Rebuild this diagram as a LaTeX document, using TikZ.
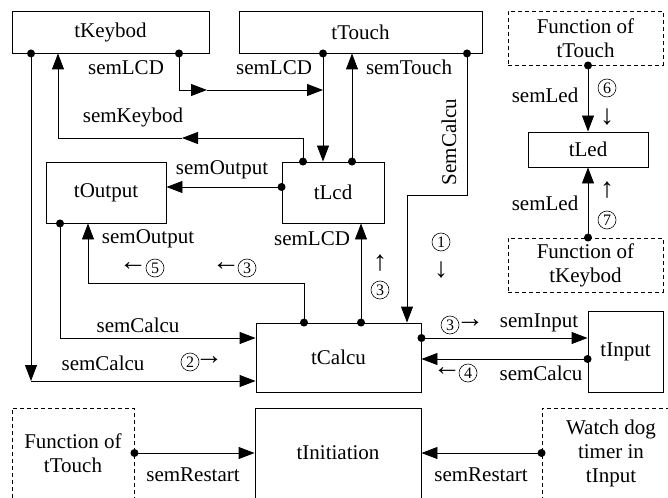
\documentclass[tikz,border=0pt]{standalone}
\usepackage{fontspec}
\setmainfont{Liberation Serif}
\usetikzlibrary{arrows.meta}

\begin{document}
\begin{tikzpicture}[%
	x=1pt,y=-1pt,
	font=\fontsize{21}{24}\selectfont,
	line width=0.9pt,
	>={Triangle[length=16pt,width=12pt]},
	task/.style={draw,inner sep=0pt,align=center},
	func/.style={task,dash pattern=on 4pt off 3pt},
	lab/.style={inner sep=0pt},
	num/.style={circle,draw,line width=0.6pt,inner sep=0pt,minimum size=18pt,font=\fontsize{16}{16}\selectfont},
	arr/.style={inner sep=0pt,font=\fontsize{28}{28}\selectfont}]
	\useasboundingbox (0,0) rectangle (668,497);
	\clip (0,0) rectangle (668,497);

	% tasks
	\node[task,minimum width=197,minimum height=42] (kb) at (110.5,32) {tKeybod};
	\node[task,minimum width=243,minimum height=42] (tc) at (360.5,32) {tTouch};
	\node[func,minimum width=155,minimum height=54] (ft) at (585.5,38) {Function of\\tTouch};
	\node[task,minimum width=120,minimum height=35] (led) at (588,149.5) {tLed};
	\node[func,minimum width=155,minimum height=54] (fk) at (585.5,265) {Function of\\tKeybod};
	\node[task,minimum width=120,minimum height=61] (out) at (106,192.5) {tOutput};
	\node[task,minimum width=102,minimum height=61] (lcd) at (333,192.5) {tLcd};
	\node[task,minimum width=165,minimum height=69] (calc) at (338.5,357.5) {tCalcu};
	\node[task,minimum width=75,minimum height=81] (inp) at (625.5,351.5) {tInput};
	\node[task,minimum width=166,minimum height=90] (init) at (338,453) {tInitiation};
	\node[func,minimum width=122,minimum height=90] (fb) at (73,453) {Function of\\tTouch};
	\node[func,minimum width=138,minimum height=90] (wd) at (611,453) {Watch dog\\timer in\\tInput};

	% semaphores
	\draw[->] (kb.south -| 31,0) coordinate (d1) -- (31,381) coordinate (c1);
	\draw[->] (c1) -- (calc.west |- c1);
	\coordinate (c2) at (323,90);
	\draw[->] (kb.south -| 179,0) coordinate (d2) |- (207,90) coordinate (c3);
	\draw[->] (c3) -- (c2);
	\draw[->] (tc.south -| c2) coordinate (d3) -- (lcd.north -| c2);
	\draw[->] (lcd.north -| 352,0) coordinate (d4) -- (tc.south -| 352,0);
	\draw[->] (lcd.north -| 303,0) coordinate (d5) |- (182,138) coordinate (c4);
	\draw[->] (c4) -| (kb.south -| 58,0);
	\draw[->] (lcd.west |- 0,187) coordinate (d6) -- (out.east |- 0,187);
	\draw[->] (out.south -| 60,0) coordinate (d7) |- (calc.west |- 0,338);
	\draw[->] (calc.north -| 304,0) coordinate (d8) |- (88,283) -- (out.south -| 88,0);
	\draw[->] (calc.north -| 361,0) coordinate (d9) -- (lcd.south -| 361,0);
	\draw[->] (tc.south -| 467,0) coordinate (d10) |- (407,195) -- (calc.north -| 407,0);
	\draw[->] (calc.east |- 0,338) coordinate (d11) -- (inp.west |- 0,338);
	\draw[->] (inp.west |- 0,359) coordinate (d12) -- (calc.east |- 0,359);
	\draw[->] (ft.south -| led.north) coordinate (d13) -- (led.north);
	\draw[->] (fk.north -| led.south) coordinate (d14) -- (led.south);
	\draw[->] (fb.east |- init.west) coordinate (d15) -- (init.west);
	\draw[->] (wd.west |- init.east) coordinate (d16) -- (init.east);
	\foreach \i in {1,...,16}
		\fill (d\i) circle (4pt);

	% labels
	\node[lab] (l1) at (103,363) {semCalcu};
	\node[lab] (l3) at (126,68) {semLCD};
	\node[lab] (l4) at (274,68) {semLCD};
	\node[lab] (l5) at (409,67) {semTouch};
	\node[lab] (l6) at (133,117) {semKeybod};
	\node[lab] (l7) at (222,170) {semOutput};
	\node[lab] (l8) at (138,325) {semCalcu};
	\node[lab] (l9) at (148,239) {semOutput};
	\node[lab] (l12) at (312,239) {semLCD};
	\node[lab,rotate=90] (l15) at (449,142) {SemCalcu};
	\node[lab] (l18) at (539,323) {semInput};
	\node[lab] (l20) at (541,373) {semCalcu};
	\node[lab] (l22) at (545,95) {semLed};
	\node[lab] (l25) at (545,203) {semLed};
	\node[lab] (l28) at (193,475) {semRestart};
	\node[lab] (l29) at (481,475) {semRestart};

	% order of the steps
	\node[num] (n2) at (190,362) {2};
	\node[arr] (a2) at (209,361) {→};
	\node[arr] (a5) at (133,267) {←};
	\node[num] (n5) at (155,268) {5};
	\node[arr] (a3a) at (226,267) {←};
	\node[num] (n3a) at (247,268) {3};
	\node[arr] (a3b) at (380,263) {↑};
	\node[num] (n3b) at (380,290) {3};
	\node[num] (n1) at (441,242) {1};
	\node[arr] (a1) at (441,270) {↓};
	\node[num] (n3c) at (450,325) {3};
	\node[arr] (a3c) at (470,324) {→};
	\node[arr] (a4) at (447,372) {←};
	\node[num] (n4) at (468,373) {4};
	\node[num] (n6) at (607,88) {6};
	\node[arr] (a6) at (607,117) {↓};
	\node[arr] (a7) at (607,190) {↑};
	\node[num] (n7) at (607,220) {7};
\end{tikzpicture}
\end{document}
